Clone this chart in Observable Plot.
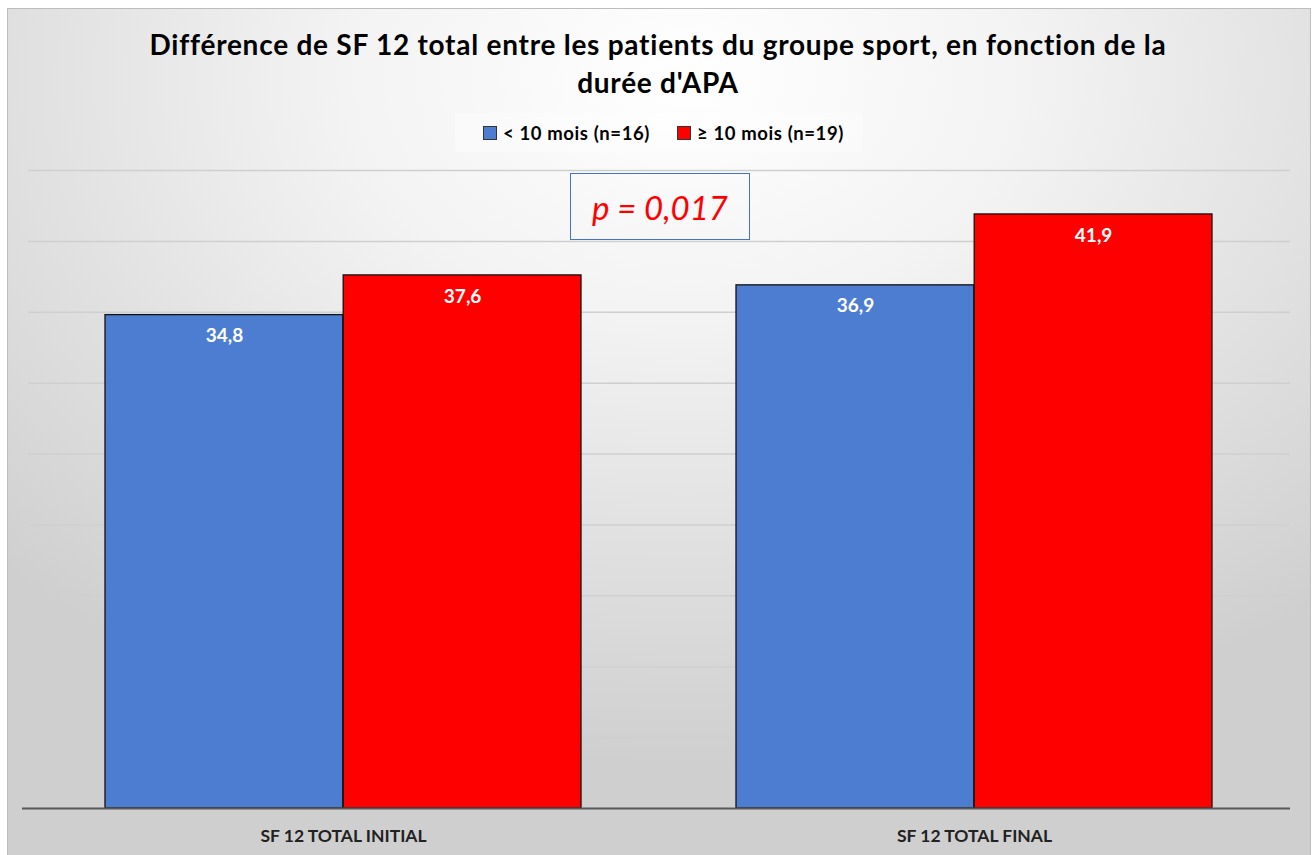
<!DOCTYPE html>
<html>
<head>
<meta charset="utf-8">
<script src="https://cdn.jsdelivr.net/npm/d3@7"></script>
<script src="https://cdn.jsdelivr.net/npm/@observablehq/plot@0.6"></script>
<style>
  html, body { margin: 0; padding: 0; background: #ffffff; }
  #page { position: relative; width: 1316px; height: 855px; overflow: hidden; font-family: Lato, "Open Sans", sans-serif; }
  #frame { position: absolute; left: 7px; top: 8px; width: 1302px; height: 860px;
    border: 1px solid #bdbdbd;
    background: radial-gradient(ellipse 75% 80% at 52% 8%, #ffffff 0%, #f3f3f3 35%, #e2e2e2 65%, #cfcfcf 100%); }
  #title { position: absolute; left: 0; top: 25px; width: 1316px; text-align: center; font-weight: 700; font-size: 28px; letter-spacing: 0.75px; line-height: 38px; color: #000; }
  #legend { position: absolute; left: 455px; top: 113px; width: 397px; padding-left: 10px; height: 39px; background: rgba(255,255,255,0.35);
    display: flex; align-items: center; justify-content: center; font-weight: 700; font-size: 18.5px; letter-spacing: 0.6px; color: #000; }
  .item { display: flex; align-items: center; }
  .sw { width: 12px; height: 12px; border: 1px solid #333; margin-right: 6px; }
  #pbox { position: absolute; left: 570px; top: 173px; width: 178px; height: 65px; border: 1.5px solid #4472c4;
    display: flex; align-items: center; justify-content: center; color: #ff0000; font-style: italic; font-size: 33px; font-family: Lato, sans-serif; }
  #chart { position: absolute; left: 0; top: 160px; }
</style>
</head>
<body>
<div id="page">
  <div id="frame"></div>
  <div id="title">Différence de SF 12 total entre les patients du groupe sport, en fonction de la<br>durée d'APA</div>
  <div id="legend"></div>
  <div id="chart"></div>
  <div id="pbox">p = 0,017</div>
</div>
<script>
const categories = ["SF 12 TOTAL INITIAL", "SF 12 TOTAL FINAL"];
const seriesNames = ["< 10 mois (n=16)", "≥ 10 mois (n=19)"];
const shortValues = [34.8, 36.9];
const longValues = [37.6, 41.9];
const yTicks = [0, 5, 10, 15, 20, 25, 30, 35, 40, 45];
const colors = ["#4d7dd0", "#ff0000"];
const pValueLabel = "p = 0,017";

const fmt = v => v.toFixed(1).replace(".", ",");
const shortData = categories.map((c, i) => ({category: c, value: shortValues[i], label: fmt(shortValues[i])}));
const longData = categories.map((c, i) => ({category: c, value: longValues[i], label: fmt(longValues[i])}));

const W = 1316, H = 695;
const mL = 28, mR = 26, mT = 10, mB = 47;
const pIn = 0.2456, pOut = 0.122;
const step = (W - mL - mR) / (categories.length - pIn + 2 * pOut);
const bw = step * (1 - pIn);
const half = bw / 2;

// legend
const legend = document.getElementById("legend");
seriesNames.forEach((s, i) => {
  const it = document.createElement("div");
  it.className = "item";
  it.style.marginRight = i === 0 ? "27px" : "0";
  const sw = document.createElement("div");
  sw.className = "sw";
  sw.style.background = colors[i];
  const t = document.createElement("span");
  t.textContent = s;
  it.appendChild(sw); it.appendChild(t);
  legend.appendChild(it);
});
document.getElementById("pbox").textContent = pValueLabel;

const plot = Plot.plot({
  width: W,
  height: H,
  marginLeft: mL,
  marginRight: mR,
  marginTop: mT,
  marginBottom: mB,
  style: {background: "transparent", fontFamily: "Lato, 'Open Sans', sans-serif"},
  x: {domain: categories, paddingInner: pIn, paddingOuter: pOut, align: 0.5, label: null},
  y: {domain: [0, 45], label: null, axis: null},
  marks: [
    Plot.ruleY(yTicks.filter(d => d > 0), {stroke: "#cfcfcf", strokeWidth: 1.5}),
    Plot.barY(shortData, {x: "category", y: "value", fill: colors[0], stroke: "#111", strokeWidth: 1.3, insetRight: half}),
    Plot.barY(longData, {x: "category", y: "value", fill: colors[1], stroke: "#111", strokeWidth: 1.3, insetLeft: half}),
    Plot.ruleY([0], {stroke: "#595959", strokeWidth: 2, insetLeft: -6}),
    Plot.text(shortData, {x: "category", y: "value", text: "label", dx: -half / 2, dy: 21, fill: "#fff", fontSize: 19, fontWeight: 700}),
    Plot.text(longData, {x: "category", y: "value", text: "label", dx: half / 2, dy: 21, fill: "#fff", fontSize: 19, fontWeight: 700}),
    Plot.axisX({tickSize: 0, tickPadding: 21, fontSize: 17.5, fontWeight: 700, color: "#222", label: null})
  ]
});
document.getElementById("chart").appendChild(plot);
</script>
</body>
</html>
